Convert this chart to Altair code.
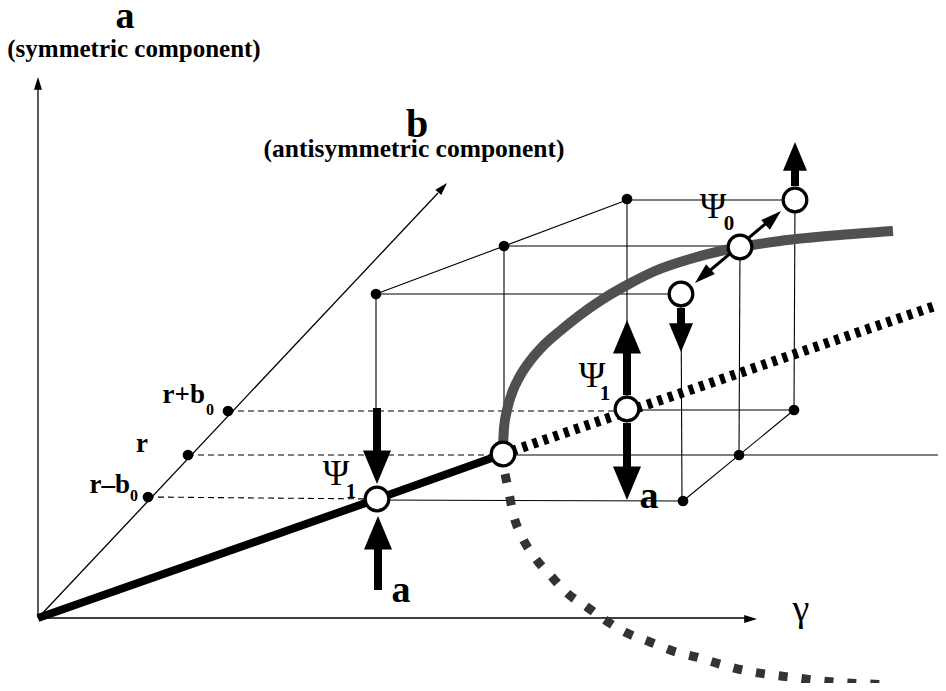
import altair as alt
import pandas as pd

# ---------------- diagram data (reference pixel space) ----------------
# coordinate axes: start/end of each axis line
axis_x1 = [38, 38, 38]
axis_y1 = [618, 618, 618]
axis_x2 = [38, 750, 438]
axis_y2 = [88, 618, 193]
# axis arrow tips and directions (deg, clockwise from up)
axhead_x = [38, 757, 447]
axhead_y = [77, 619, 183]
axhead_ang = [0, 90, 43]

# thin "cube" wire frame
cube_x1 = [376, 683, 376, 504, 627, 627, 503, 377, 376, 504, 627, 681, 740, 795]
cube_y1 = [294, 501, 294, 246, 200, 410, 455, 500, 294, 246, 200, 294, 247, 200]
cube_x2 = [627, 794, 681, 740, 795, 794, 938, 683, 376, 504, 627, 682, 739, 794]
cube_y2 = [200, 410, 294, 246, 200, 410, 455, 501, 410, 440, 409, 501, 455, 410]

# dashed guide lines from the b-axis levels
dash_x1 = [228, 188, 148]
dash_y1 = [411, 455, 497]
dash_x2 = [627, 503, 377]
dash_y2 = [411, 455, 499]

# small dots (b-axis levels and cube corners)
dot_x = [228, 188, 148, 376, 504, 627, 683, 739, 794]
dot_y = [411, 455, 497, 294, 246, 199, 501, 455, 410]

# stable symmetric branch (thick black)
stab_x = [38, 377, 503]
stab_y = [618, 499, 454]
# unstable symmetric branch (dotted)
unst_x = [512, 935]
unst_y = [451, 306]
# stable asymmetric branch (grey)
gray_x = [503, 504, 507, 512, 520, 530, 543, 560, 580, 603, 627, 655, 690, 730, 780, 840, 893]
gray_y = [446, 428, 410, 393, 376, 361, 346, 331, 315, 299, 285, 271, 259, 249, 241, 235, 231]
# unstable lower branch (dashed)
low_x = [505, 508, 513, 522, 533, 552, 567, 587, 605, 627, 650, 673, 700, 723, 747, 773, 797, 823, 847, 870, 893]
low_y = [474, 488, 513, 537, 555, 577, 593, 607, 620, 633, 642, 651, 658, 665, 671, 675, 678, 681, 683, 684, 685]

# solution circles
circ_x = [377, 503, 627, 681, 740, 795]
circ_y = [499, 454, 409, 294, 247, 200]

# thick perturbation arrows: shafts and heads
shaft_x1 = [377, 378, 627, 627, 795, 681]
shaft_y1 = [408, 590, 395, 423, 186, 308]
shaft_x2 = [377, 378, 627, 627, 795, 681]
shaft_y2 = [452, 548, 350, 470, 168, 326]
head_x = [377, 378, 627, 627, 795, 681]
head_y = [484, 516, 320, 500, 142, 352]
head_ang = [180, 0, 0, 180, 0, 180]
head_size = [784, 784, 784, 784, 576, 576]

# thin double arrow at Psi_0
dbl_x1, dbl_y1, dbl_x2, dbl_y2 = [701], [278], [776], [215]
dblhead_x = [781, 695]
dblhead_y = [211, 283]
dblhead_ang = [48, 228]

# labels
lab_text = ["a", "(symmetric component)", "b", "(antisymmetric component)",
            "r", "a", "a"]
lab_x = [125, 134, 417, 414, 142, 401, 649]
lab_y = [28, 57, 137, 157, 452, 602, 508]
lab_fs = [38, 25, 40, 25.5, 27, 38, 38]

rlab_text = ["r+b", "r\u2013b"]
rlab_x = [205, 130]
rlab_y = [403, 493]
rlab_fs = [27, 27]

sub_text = ["0", "0", "1", "1", "0"]
sub_x = [210, 134, 351, 605, 729]
sub_y = [415, 501, 498, 400, 230]
sub_fs = [16, 16, 21, 21, 21]

psi_text = ["\u03a8", "\u03a8", "\u03a8", "\u03b3"]
psi_x = [336, 592, 713, 801]
psi_y = [485, 387, 218, 621]
psi_fs = [36, 36, 36, 38]

# ---------------- chart ----------------
W, H = 930, 675
xs = alt.Scale(domain=[8, 938], nice=False, zero=False)
ys = alt.Scale(domain=[8, 683], nice=False, zero=False, reverse=True)
FONT = "Liberation Serif"


def segs(x1, y1, x2, y2, width, color="black", dash=None):
    df = pd.DataFrame({"x1": x1, "y1": y1, "x2": x2, "y2": y2})
    kw = dict(color=color, strokeWidth=width)
    if dash:
        kw["strokeDash"] = dash
    return alt.Chart(df).mark_rule(**kw).encode(
        x=alt.X("x1:Q", scale=xs, axis=None),
        y=alt.Y("y1:Q", scale=ys, axis=None),
        x2="x2:Q", y2="y2:Q")


def curve(xv, yv, width, color, dash=None, interp="linear"):
    df = pd.DataFrame({"x": xv, "y": yv, "i": list(range(len(xv)))})
    kw = dict(color=color, strokeWidth=width, interpolate=interp, strokeCap="butt")
    if dash:
        kw["strokeDash"] = dash
    return alt.Chart(df).mark_line(**kw).encode(
        x=alt.X("x:Q", scale=xs, axis=None),
        y=alt.Y("y:Q", scale=ys, axis=None),
        order="i:Q")


def heads(xv, yv, ang, size, shape):
    df = pd.DataFrame({"x": xv, "y": yv, "a": ang, "s": size})
    return alt.Chart(df).mark_point(shape=shape, filled=True, color="black",
                                    opacity=1, strokeWidth=0).encode(
        x=alt.X("x:Q", scale=xs, axis=None),
        y=alt.Y("y:Q", scale=ys, axis=None),
        angle=alt.Angle("a:Q", scale=None),
        size=alt.Size("s:Q", scale=None))


def texts(tv, xv, yv, fs, weight="bold", align="center"):
    df = pd.DataFrame({"t": tv, "x": xv, "y": yv, "fs": fs})
    return alt.Chart(df).mark_text(font=FONT, fontWeight=weight, align=align,
                                   baseline="alphabetic", color="black").encode(
        x=alt.X("x:Q", scale=xs, axis=None),
        y=alt.Y("y:Q", scale=ys, axis=None),
        text="t:N",
        size=alt.Size("fs:Q", scale=None))


HEAD_THICK = "M0,0 L-1,2.4 L1,2.4 Z"
HEAD_THIN = "M0,0 L-1,3.2 L1,3.2 Z"

ax_sz = [64] * len(axhead_x)
dbl_sz = [169] * len(dblhead_x)
dots_df = pd.DataFrame({"x": dot_x, "y": dot_y})
circ_df = pd.DataFrame({"x": circ_x, "y": circ_y})

layers = [
    segs(cube_x1, cube_y1, cube_x2, cube_y2, 1.1),
    segs(dash_x1, dash_y1, dash_x2, dash_y2, 1.1, dash=[6, 4]),
    segs(axis_x1, axis_y1, axis_x2, axis_y2, 1.3),
    heads(axhead_x, axhead_y, axhead_ang, ax_sz, HEAD_THIN),
    curve(low_x, low_y, 9, "#333333", dash=[9, 14], interp="monotone"),
    curve(unst_x, unst_y, 10, "black", dash=[5, 6]),
    curve(gray_x, gray_y, 10, "#505050", interp="monotone"),
    curve(stab_x, stab_y, 8, "black"),
    alt.Chart(dots_df).mark_point(shape="circle", filled=True, color="black",
                                  opacity=1, size=115).encode(
        x=alt.X("x:Q", scale=xs, axis=None), y=alt.Y("y:Q", scale=ys, axis=None)),
    segs(shaft_x1, shaft_y1, shaft_x2, shaft_y2, 8),
    heads(head_x, head_y, head_ang, head_size, HEAD_THICK),
    segs(dbl_x1, dbl_y1, dbl_x2, dbl_y2, 3),
    heads(dblhead_x, dblhead_y, dblhead_ang, dbl_sz, HEAD_THIN),
    alt.Chart(circ_df).mark_point(shape="circle", filled=False, fill="white",
                                  fillOpacity=1, stroke="black", strokeWidth=3.2,
                                  opacity=1, size=560).encode(
        x=alt.X("x:Q", scale=xs, axis=None), y=alt.Y("y:Q", scale=ys, axis=None)),
    texts(lab_text, lab_x, lab_y, lab_fs),
    texts(rlab_text, rlab_x, rlab_y, rlab_fs, align="right"),
    texts(sub_text, sub_x, sub_y, sub_fs),
    texts(psi_text, psi_x, psi_y, psi_fs, weight="normal"),
]

chart = alt.layer(*layers).properties(
    width=W, height=H,
    autosize=alt.AutoSizeParams(type="none"),
    padding=0,
    background="white",
).configure_view(stroke=None)

chart.save("out.html", embed_options={"renderer": "svg", "actions": False})
